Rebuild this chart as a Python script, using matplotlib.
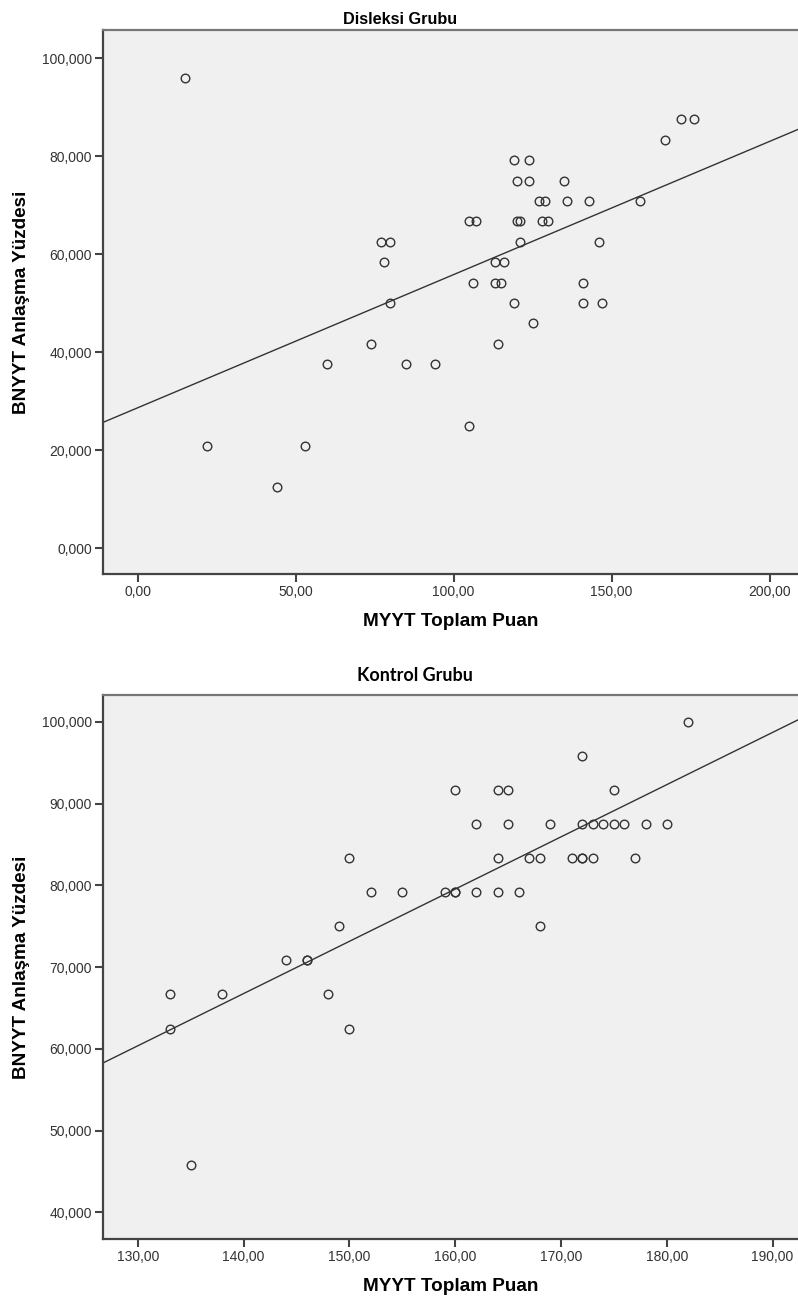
import numpy as np
import matplotlib
matplotlib.use('Agg')
import matplotlib.pyplot as plt
from matplotlib.ticker import FuncFormatter

plt.rcParams['font.family'] = ['Liberation Sans', 'DejaVu Sans']

# Disleksi grubu
dis_x = [15, 22, 44, 53, 60, 74, 77, 80, 78, 80, 85, 94, 105, 107, 106, 105,
         114, 113, 116, 113, 115, 119, 125, 120, 121, 121, 119, 124, 120, 124,
         127, 129, 128, 130, 135, 136, 143, 141, 141, 146, 147, 159, 167, 172, 176]
dis_y = [95.83, 20.83, 12.5, 20.83, 37.5, 41.67, 62.5, 62.5, 58.33, 50, 37.5, 37.5,
         66.67, 66.67, 54.17, 25, 41.67, 58.33, 58.33, 54.17, 54.17, 50, 45.83,
         66.67, 66.67, 62.5, 79.17, 79.17, 75, 75, 70.83, 70.83, 66.67, 66.67, 75,
         70.83, 70.83, 54.17, 50, 62.5, 50, 70.83, 83.33, 87.5, 87.5]

# Kontrol grubu
kon_x = [133, 133, 135, 138, 144, 146, 146, 148, 149, 150, 150, 152, 155, 159,
         160, 160, 160, 162, 162, 164, 164, 164, 165, 165, 166, 167, 168, 168,
         169, 171, 172, 172, 172, 172, 173, 173, 174, 175, 175, 176, 177, 178, 180, 182]
kon_y = [66.67, 62.5, 45.83, 66.67, 70.83, 70.83, 70.83, 66.67, 75, 62.5, 83.33,
         79.17, 79.17, 79.17, 79.17, 79.17, 91.67, 87.5, 79.17, 91.67, 83.33, 79.17,
         91.67, 87.5, 79.17, 83.33, 83.33, 75, 87.5, 83.33, 83.33, 83.33, 87.5,
         95.83, 87.5, 83.33, 87.5, 87.5, 91.67, 87.5, 83.33, 87.5, 87.5, 100]

dis_xticks = [0, 50, 100, 150, 200]
dis_yticks = [0, 20, 40, 60, 80, 100]
kon_xticks = [130, 140, 150, 160, 170, 180, 190]
kon_yticks = [40, 50, 60, 70, 80, 90, 100]


def fmt(decimals):
    return FuncFormatter(lambda v, p: ('{:.%df}' % decimals).format(v).replace('.', ','))


def scatter_panel(ax, x, y, xlim, ylim, xticks, yticks):
    x = np.array(x, dtype=float)
    y = np.array(y, dtype=float)
    ax.set_facecolor('#f0f0f0')
    ax.plot(x, y, 'o', mfc='none', mec='#333333', ms=6.2, mew=1.0, zorder=3)
    # en kucuk kareler dogrusu
    b, a = np.polyfit(x, y, 1)
    xx = np.array(xlim)
    ax.plot(xx, a + b * xx, color='#333333', lw=1.0, zorder=2)
    ax.set_xlim(xlim)
    ax.set_ylim(ylim)
    ax.set_xticks(xticks)
    ax.set_yticks(yticks)
    ax.xaxis.set_major_formatter(fmt(2))
    ax.yaxis.set_major_formatter(fmt(3))
    ax.tick_params(direction='out', length=6, width=1.5, colors='#444444',
                   labelcolor='#333333', labelsize=10, pad=2)
    for s in ['left', 'bottom']:
        ax.spines[s].set_color('#444444')
        ax.spines[s].set_linewidth(1.6)
    ax.spines['top'].set_color('#777777')
    ax.spines['top'].set_linewidth(1.6)
    ax.spines['right'].set_visible(False)
    ax.set_xlabel('MYYT Toplam Puan', fontsize=13.6, fontweight='bold', labelpad=10)
    ax.set_ylabel('BNYYT Anlaşma Yüzdesi', fontsize=13.6, fontweight='bold')
    ax.yaxis.set_label_coords(-0.105, 0.5)


fig = plt.figure(figsize=(7.98, 13.02), dpi=100)
ax1 = fig.add_axes([0.129, 0.5591, 0.871, 0.4178])
ax2 = fig.add_axes([0.129, 0.0484, 0.871, 0.4178])

scatter_panel(ax1, dis_x, dis_y, (-11, 209), (-5.3, 105.7), dis_xticks, dis_yticks)
scatter_panel(ax2, kon_x, kon_y, (126.7, 192.4), (36.75, 103.3), kon_xticks, kon_yticks)

fig.text(0.5013, 0.9816, 'Disleksi Grubu', ha='center', va='baseline', fontsize=11.7,
         fontweight='bold', family=['Liberation Sans Narrow', 'Liberation Sans'])
fig.text(0.52, 0.4770, 'Kontrol Grubu', ha='center', va='baseline', fontsize=13,
         fontweight='bold', family=['Lato', 'DejaVu Sans'])

fig.savefig('out.png', dpi=100)
